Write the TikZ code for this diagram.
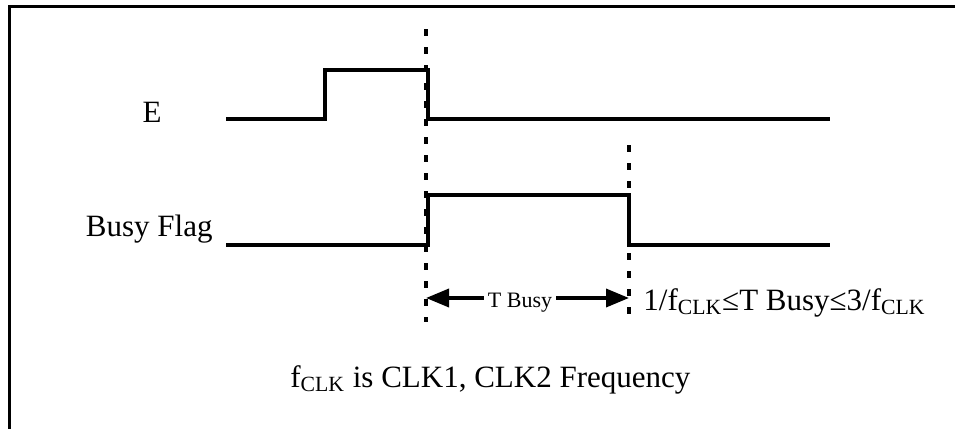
\documentclass[tikz,border=0pt]{standalone}
\usepackage{fontspec}
\setmainfont{Liberation Serif}
\usetikzlibrary{arrows.meta}

\tikzset{
  wave/.style={line width=1.6pt, line join=miter},
  frameline/.style={line width=1.5pt},
  marker/.style={line width=1.8pt, dash pattern=on 3.5pt off 5.5pt},
  span/.style={line width=1.8pt, -{Triangle[length=11.5pt,width=9pt]}},
  sig/.style={font=\fontsize{15.5}{18}\selectfont, inner sep=0pt},
  small/.style={font=\fontsize{11}{13}\selectfont, inner sep=2pt}
}
\newcommand{\clk}{\textsubscript{CLK}}

\begin{document}
\begin{tikzpicture}[x=0.5pt, y=-0.5pt]
        \useasboundingbox (0,0) rectangle (955,429);
        \draw[frameline] (9,429) -- (9,6) -- (955,6);

        % signal names
        \node[sig, anchor=base] (e) at (152,122) {E};
        \node[sig, anchor=base east] (busy) at (213,236) {Busy Flag};

        % waveforms
        \draw[wave] (226,119) -- (325,119) -- (325,70) -- (428,70) -- (428,119) -- (830,119);
        \draw[wave] (226,245) -- (428,245) -- (428,195) -- (629,195) -- (629,245) -- (830,245);

        % timing markers
        \draw[marker] (426,29) -- (426,322);
        \draw[marker] (629,145) -- (629,315);
        \coordinate (ml) at (426,298);
        \coordinate (mr) at (629,298);

        \node[small, anchor=base] (tb) at (520,307) {T Busy};
        \draw[span] (tb.west |- ml) -- (ml);
        \draw[span] (tb.east |- mr) -- (mr);

        \node[sig, anchor=base west] (range) at (643,310) {1/f\clk{}≤T Busy≤3/f\clk};
        \node[sig, anchor=base west] (note) at (290,387) {f\clk{} is CLK1, CLK2 Frequency};
    \end{tikzpicture}
\end{document}
